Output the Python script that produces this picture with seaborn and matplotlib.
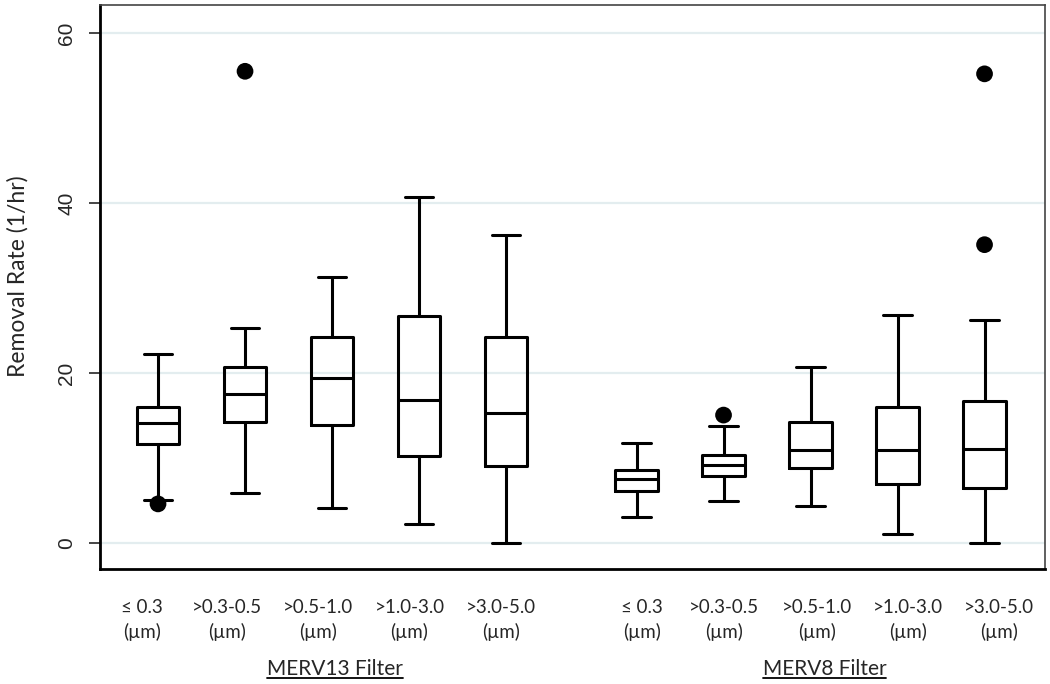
import numpy as np
import pandas as pd
import seaborn as sns
import matplotlib.pyplot as plt

# ------------------- DATA -------------------

sizes = ['\u2264 0.3', '>0.3-0.5', '>0.5-1.0', '>1.0-3.0', '>3.0-5.0']
filters = ['MERV13 Filter', 'MERV8 Filter']

# box summaries (MERV13 first, then MERV8)
whislo = [5.0, 5.85, 4.1, 2.2, 0.0, 3.0, 4.9, 4.4, 1.0, 0.0]
q1 = [11.7, 14.2, 13.85, 10.2, 9.05, 6.15, 7.85, 8.8, 6.9, 6.5]
med = [14.1, 17.5, 19.4, 16.8, 15.3, 7.5, 9.2, 11.0, 10.9, 11.1]
q3 = [16.0, 20.7, 24.2, 26.7, 24.2, 8.55, 10.35, 14.2, 16.0, 16.7]
whishi = [22.2, 25.3, 31.3, 40.7, 36.2, 11.8, 13.75, 20.7, 26.8, 26.2]

# outliers: box index and value
out_box = [0, 1, 6, 9, 9]
out_val = [4.6, 55.5, 15.05, 55.2, 35.1]

# ------------------- LAYOUT -------------------

positions = [0, 1, 2, 3, 4, 5.5, 6.5, 7.5, 8.5, 9.5]
# the labels sit a little off the boxes in the original
label_x = [-0.18, 0.79, 1.84, 2.89, 3.94, 5.56, 6.51, 7.57, 8.62, 9.67]
group_x = [2.03, 7.66]

# ------------------- PLOT -------------------

sns.set_style("white")

stats = []
for i in range(len(med)):
    stats.append(dict(whislo=whislo[i], q1=q1[i], med=med[i], q3=q3[i],
                      whishi=whishi[i], fliers=[]))

fig = plt.figure(figsize=(10.5, 6.84), dpi=100)
ax = fig.add_axes([100 / 1050, 1 - 569 / 684, 945 / 1050, 564 / 684])

for y in [0, 20, 40, 60]:
    ax.axhline(y, color='#e3edef', lw=1.6, zorder=0)

lw = 2.2
ax.bxp(stats, positions=positions, widths=0.49, showfliers=False,
       boxprops=dict(color='black', lw=lw),
       whiskerprops=dict(color='black', lw=lw),
       capprops=dict(color='black', lw=lw),
       medianprops=dict(color='black', lw=lw),
       capwidths=0.33, manage_ticks=False)

df_out = pd.DataFrame({'x': [positions[b] for b in out_box], 'y': out_val})
sns.scatterplot(data=df_out, x='x', y='y', color='black', s=145,
                edgecolor='none', ax=ax, zorder=5)

ax.set_xlim(-0.667, 10.195)
ax.set_ylim(-3.06, 63.3)
ax.set_xlabel('')
ax.set_ylabel('')

ax.set_yticks([0, 20, 40, 60])
ax.set_yticklabels(['0', '20', '40', '60'], rotation=90, va='center',
                   fontsize=15, family='Liberation Sans')
ax.tick_params(axis='y', direction='out', length=8, width=1.2, pad=9, left=True)
ax.set_xticks([])

for side in ['left', 'bottom']:
    ax.spines[side].set_color('black')
    ax.spines[side].set_linewidth(2)
for side in ['top', 'right']:
    ax.spines[side].set_color('#444444')
    ax.spines[side].set_linewidth(1.2)

fig.text(18 / 1050, 1 - 276 / 684, 'Removal Rate (1/hr)', rotation=90,
         ha='center', va='center', fontsize=16.5, family='Lato')

# two-line category labels and underlined group labels
trans = ax.get_xaxis_transform()
for i in range(len(label_x)):
    ax.text(label_x[i], -0.053, sizes[i % 5] + '\n(\u00b5m)', transform=trans,
            ha='center', va='top', fontsize=13.5, family='Lato', linespacing=1.45)

fig.canvas.draw()
renderer = fig.canvas.get_renderer()
for g, name in enumerate(filters):
    t = ax.text(group_x[g], -0.188, name, transform=trans,
                ha='center', va='baseline', fontsize=15, family='Lato')
    bb = t.get_window_extent(renderer=renderer)
    x0 = ax.transData.inverted().transform((bb.x0, 0))[0]
    x1 = ax.transData.inverted().transform((bb.x1, 0))[0]
    ax.plot([x0, x1], [-0.194, -0.194], color='black', lw=1.3,
            transform=trans, clip_on=False)

fig.savefig('out.png', dpi=100)
